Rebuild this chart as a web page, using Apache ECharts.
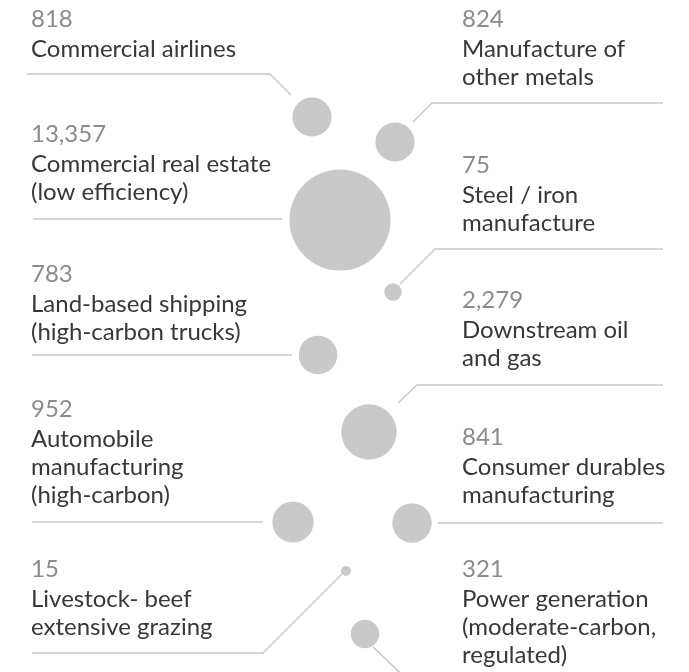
<!DOCTYPE html>
<html><head><meta charset="utf-8">
<script src="https://cdn.jsdelivr.net/npm/echarts@6/dist/echarts.min.js"></script>
<style>html,body{margin:0;padding:0;background:#fff}#c{width:689px;height:672px}</style>
</head><body><div id="c"></div>
<script>
// ---- data ----
const sectors = [
  "Commercial airlines",
  "Manufacture of other metals",
  "Commercial real estate (low efficiency)",
  "Steel / iron manufacture",
  "Land-based shipping (high-carbon trucks)",
  "Downstream oil and gas",
  "Automobile manufacturing (high-carbon)",
  "Consumer durables manufacturing",
  "Livestock- beef extensive grazing",
  "Power generation (moderate-carbon, regulated)"
];
const sectorLines = [
  ["Commercial airlines"],
  ["Manufacture of", "other metals"],
  ["Commercial real estate", "(low efficiency)"],
  ["Steel / iron", "manufacture"],
  ["Land-based shipping", "(high-carbon trucks)"],
  ["Downstream oil", "and gas"],
  ["Automobile", "manufacturing", "(high-carbon)"],
  ["Consumer durables", "manufacturing"],
  ["Livestock- beef", "extensive grazing"],
  ["Power generation", "(moderate-carbon,", "regulated)"]
];
const values = [818, 824, 13357, 75, 783, 2279, 952, 841, 15, 321];

// ---- layout (chart units, y measured from top) ----
const side = ["left","right","left","right","left","right","left","right","left","right"];
const bubbleX = [312, 395, 340, 393, 318, 369, 293, 412, 346, 365];
const bubbleY = [117, 142, 220, 292, 355, 432, 522, 523, 571, 634];
const valueBaseline = [27, 27, 142, 173, 282, 308, 417, 445, 577, 577];
const leaders = [
  [[27,74],[270,74],[291,95]],
  [[663,103],[432,103],[413,122]],
  [[33,219],[282,219]],
  [[663,249],[435,249],[400,284]],
  [[32,355],[292,355]],
  [[663,385],[417,385],[398,403]],
  [[32,522],[263,522]],
  [[663,523],[438,523]],
  [[32,653],[263,653],[342,574]],
  [[373,647],[412,684]]
];

const FONT = "Lato";
const FS = 24;
const BASE_OFF = 8;

const chart = echarts.init(document.getElementById('c'), null, {renderer: 'canvas'});

const scatterData = values.map((v, i) => ({ name: sectors[i], value: [bubbleX[i], bubbleY[i], v] }));

const graphics = [];
values.forEach((v, i) => {
  const x = side[i] === "left" ? 31 : 462;
  graphics.push({
    type: 'text', x: x, y: valueBaseline[i] - BASE_OFF, silent: true,
    style: { text: v.toLocaleString('en-US'), fontFamily: FONT, fontSize: FS, fill: '#8f8a87', align: 'left', verticalAlign: 'middle' }
  });
  sectorLines[i].forEach((t, k) => {
    graphics.push({
      type: 'text', x: x, y: valueBaseline[i] + 30 + 28 * k - BASE_OFF, silent: true,
      style: { text: t, fontFamily: FONT, fontSize: FS, fill: '#383838', align: 'left', verticalAlign: 'middle' }
    });
  });
});

chart.setOption({
  animation: false,
  backgroundColor: '#ffffff',
  grid: { left: 0, right: 0, top: 0, bottom: 0 },
  xAxis: { type: 'value', min: 0, max: 689, show: false },
  yAxis: { type: 'value', min: 0, max: 672, inverse: true, show: false },
  graphic: graphics,
  series: [
    {
      type: 'lines', coordinateSystem: 'cartesian2d', polyline: true, silent: true, z: 1,
      lineStyle: { color: '#c8c8c8', width: 1.5, opacity: 1 },
      data: leaders.map(c => ({ coords: c }))
    },
    {
      type: 'scatter', z: 2, silent: true,
      symbol: 'circle',
      symbolSize: d => 4.0 * Math.pow(d[2], 0.34),
      itemStyle: { color: '#c9c9c9', opacity: 1 },
      data: scatterData
    }
  ]
});
</script>
</body></html>
